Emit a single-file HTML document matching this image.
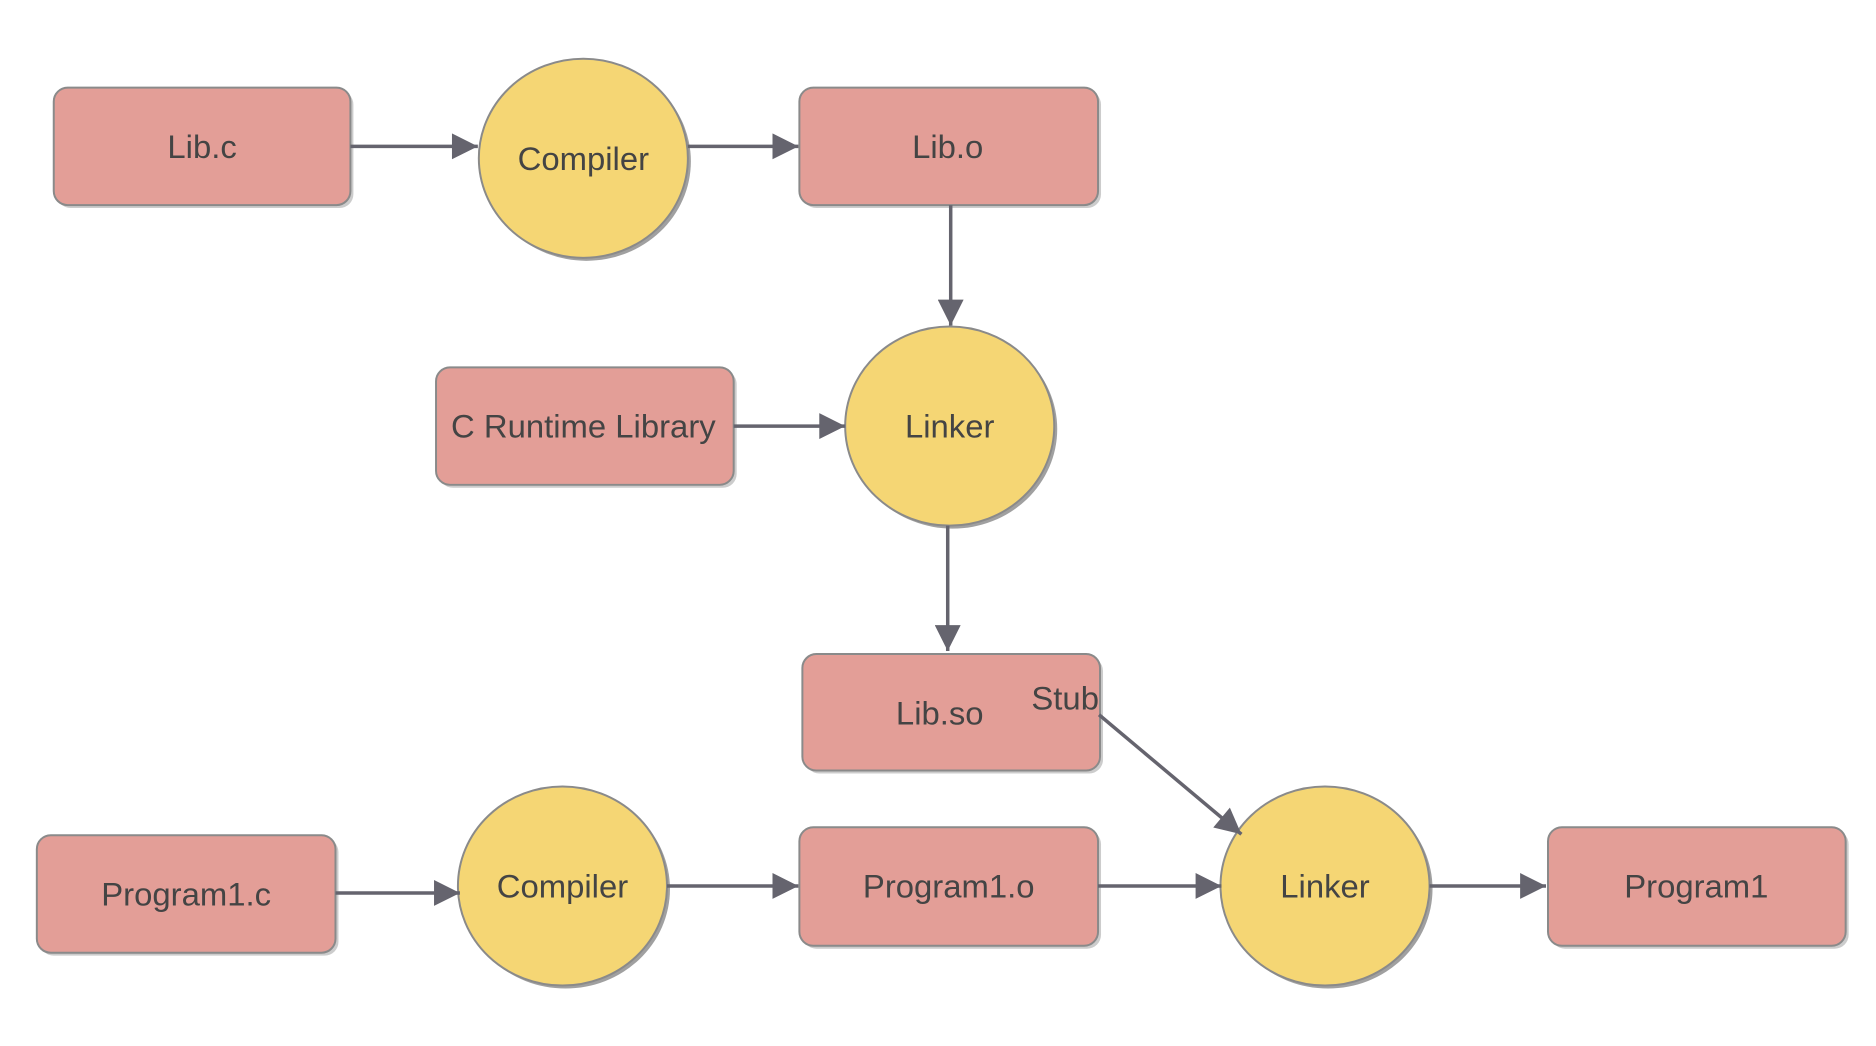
<!DOCTYPE html>
<html><head><meta charset="utf-8"><style>html,body{margin:0;padding:0;background:#fff}svg{display:block}</style></head>
<body>
<svg width="1876" height="1046" viewBox="0 0 1876 1046" xmlns="http://www.w3.org/2000/svg" font-family="Liberation Sans, sans-serif">
<defs>
<marker id="ah" viewBox="0 0 10 10" refX="10" refY="5" markerWidth="28" markerHeight="26" markerUnits="userSpaceOnUse" orient="auto"><path d="M0,0 L10,5 L0,10 z" fill="#65646e"/></marker>
</defs>
<g transform="scale(0.9955)">
<g fill="#e39e97" stroke="#8a8a8a" stroke-width="2">
<g>
<rect x="57" y="91" width="298" height="118" rx="14" fill="#aaa" stroke="none" opacity="0.6"/>
<rect x="806" y="91" width="300" height="118" rx="14" fill="#aaa" stroke="none" opacity="0.6"/>
<rect x="441" y="372" width="299" height="118" rx="14" fill="#aaa" stroke="none" opacity="0.6"/>
<rect x="809" y="660" width="299" height="117" rx="14" fill="#aaa" stroke="none" opacity="0.6"/>
<rect x="40" y="842" width="300" height="118" rx="14" fill="#aaa" stroke="none" opacity="0.6"/>
<rect x="806" y="834" width="300" height="119" rx="14" fill="#aaa" stroke="none" opacity="0.6"/>
<rect x="1558" y="834" width="299" height="119" rx="14" fill="#aaa" stroke="none" opacity="0.6"/>
</g>
<rect x="54" y="88" width="298" height="118" rx="14"/>
<rect x="803" y="88" width="300" height="118" rx="14"/>
<rect x="438" y="369" width="299" height="118" rx="14"/>
<rect x="806" y="657" width="299" height="117" rx="14"/>
<rect x="37" y="839" width="300" height="118" rx="14"/>
<rect x="803" y="831" width="300" height="119" rx="14"/>
<rect x="1555" y="831" width="299" height="119" rx="14"/>
</g>
<g fill="#f5d674" stroke="#8a8a8a" stroke-width="2">
<ellipse cx="589" cy="162" rx="105" ry="100" fill="#777" stroke="none" opacity="0.7"/>
<ellipse cx="957" cy="431" rx="105" ry="100" fill="#777" stroke="none" opacity="0.7"/>
<ellipse cx="568" cy="893" rx="105" ry="100" fill="#777" stroke="none" opacity="0.7"/>
<ellipse cx="1334" cy="893" rx="105" ry="100" fill="#777" stroke="none" opacity="0.7"/>
<ellipse cx="586" cy="159" rx="105" ry="100"/>
<ellipse cx="954" cy="428" rx="105" ry="100"/>
<ellipse cx="565" cy="890" rx="105" ry="100"/>
<ellipse cx="1331" cy="890" rx="105" ry="100"/>
</g>
<g stroke="#65646e" stroke-width="3.5" marker-end="url(#ah)">
<line x1="352" y1="147" x2="480" y2="147"/>
<line x1="691" y1="147" x2="802" y2="147"/>
<line x1="955" y1="206" x2="955" y2="327"/>
<line x1="737" y1="428" x2="849" y2="428"/>
<line x1="952" y1="528" x2="952" y2="654"/>
<line x1="1104" y1="718" x2="1247" y2="838"/>
<line x1="337" y1="897" x2="462" y2="897"/>
<line x1="670" y1="890" x2="802" y2="890"/>
<line x1="1103" y1="890" x2="1227" y2="890"/>
<line x1="1436" y1="890" x2="1553" y2="890"/>
</g>
<g fill="#444" font-size="33" text-anchor="middle" dominant-baseline="central">
<text x="203" y="147">Lib.c</text>
<text x="586" y="159">Compiler</text>
<text x="952" y="147">Lib.o</text>
<text x="586" y="428">C Runtime Library</text>
<text x="954" y="428">Linker</text>
<text x="944" y="716">Lib.so</text>
<text x="1070" y="701">Stub</text>
<text x="187" y="898">Program1.c</text>
<text x="565" y="890">Compiler</text>
<text x="953" y="890">Program1.o</text>
<text x="1331" y="890">Linker</text>
<text x="1704" y="890">Program1</text>
</g>
</g>
</svg>
</body></html>
